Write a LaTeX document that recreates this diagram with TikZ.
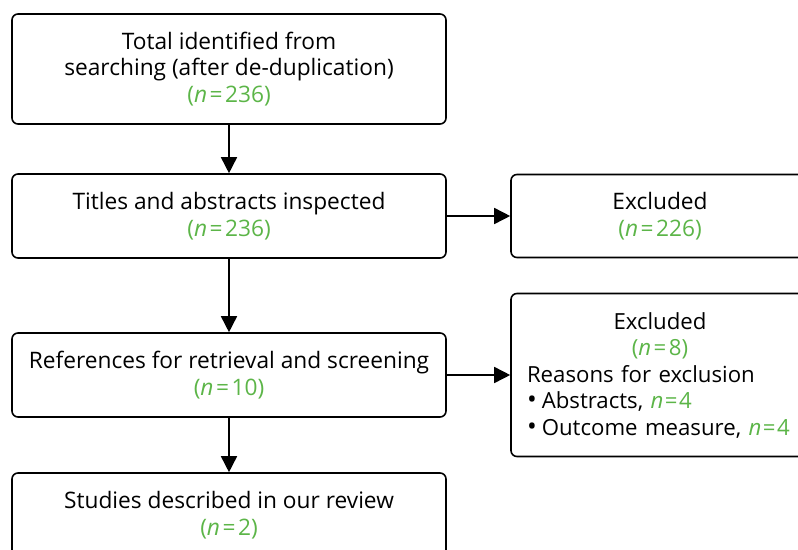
\documentclass[tikz,border=0pt]{standalone}
\usepackage{fontspec}
\setmainfont{Open Sans}
\usetikzlibrary{arrows.meta}

\definecolor{ngreen}{RGB}{92,181,72}
\newcommand{\nval}[1]{\textcolor{ngreen}{(\textit{n}\kern2.5pt=\kern2.5pt#1)}}
\newcommand{\nbare}[1]{\textcolor{ngreen}{\textit{n}\kern1.5pt=\kern1.5pt#1}}
\newcommand{\bul}{{\fontsize{26}{26}\selectfont\textbullet}\kern5pt}

\tikzset{
  stage/.style={draw, line width=1.6pt, rounded corners=6pt, align=center,
    minimum width=434pt, minimum height=84pt, inner sep=0pt},
  arrow/.style={-{Triangle[length=16pt,width=16pt]}, line width=1.6pt}}

\begin{document}
\begin{tikzpicture}[x=1pt,y=-1pt,font=\fontsize{22.7}{26.5}\selectfont]
    \useasboundingbox (0,0) rectangle (798,549);
    \clip (0,0) rectangle (798,549);
    % main column
    \node[stage, minimum height=110pt] (total) at (229,69)
        {Total identified from\\searching (after de-duplication)\\\nval{236}};
    \node[stage] (titles) at (229,216) {Titles and abstracts inspected\\\nval{236}};
    \node[stage] (refs) at (229,375) {References for retrieval and screening\\\nval{10}};
    \node[stage] (studies) at (229,515) {Studies described in our review\\\nval{2}};
    % exclusions
    \node[stage, minimum width=298pt, minimum height=83pt] (excl1) at (660,216) {Excluded\\\nval{226}};
    \node[stage, minimum width=298pt, minimum height=163pt, text width=266pt,
          inner xsep=16pt, align=left, font=\fontsize{22.2}{26.5}\selectfont] (excl2) at (660,375)
        {\makebox[\linewidth]{Excluded}\\
         \makebox[\linewidth]{\nval{8}}\\
         Reasons for exclusion\\
         \bul Abstracts, \nbare{4}\\
         \makebox[\linewidth][l]{\bul Outcome measure, \nbare{4}}};
    \draw[arrow] (total) -- (titles);
    \draw[arrow] (titles) -- (refs);
    \draw[arrow] (refs) -- (studies);
    \draw[arrow] (titles) -- (excl1);
    \draw[arrow] (refs) -- (excl2);
\end{tikzpicture}
\end{document}
